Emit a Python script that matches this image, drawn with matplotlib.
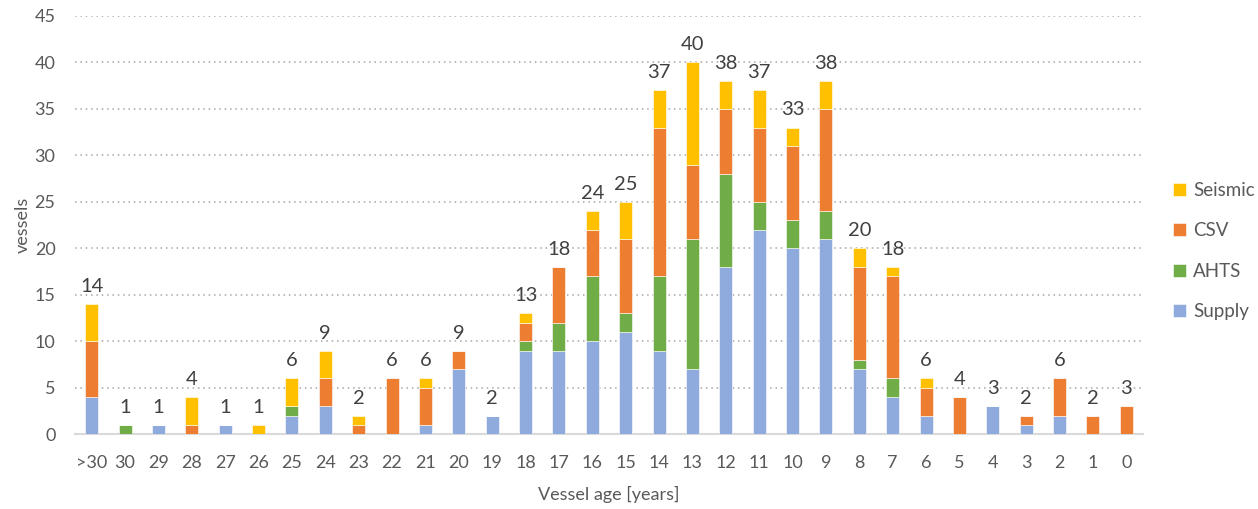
import matplotlib.pyplot as plt
import numpy as np

plt.rcParams['font.family'] = ['Lato', 'DejaVu Sans']

ages = ['>30', '30', '29', '28', '27', '26', '25', '24', '23', '22', '21', '20',
        '19', '18', '17', '16', '15', '14', '13', '12', '11', '10', '9', '8',
        '7', '6', '5', '4', '3', '2', '1', '0']
supply = [4, 0, 1, 0, 1, 0, 2, 3, 0, 0, 1, 7, 2, 9, 9, 10, 11, 9, 7, 18, 22, 20,
          21, 7, 4, 2, 0, 3, 1, 2, 0, 0]
ahts = [0, 1, 0, 0, 0, 0, 1, 0, 0, 0, 0, 0, 0, 1, 3, 7, 2, 8, 14, 10, 3, 3,
        3, 1, 2, 0, 0, 0, 0, 0, 0, 0]
csv = [6, 0, 0, 1, 0, 0, 0, 3, 1, 6, 4, 2, 0, 2, 6, 5, 8, 16, 8, 7, 8, 8,
       11, 10, 11, 3, 4, 0, 1, 4, 2, 3]
seismic = [4, 0, 0, 3, 0, 1, 3, 3, 1, 0, 1, 0, 0, 1, 0, 2, 4, 4, 11, 3, 4, 2,
           3, 2, 1, 1, 0, 0, 0, 0, 0, 0]

series = [('Supply', supply, '#8FAADC'),
          ('AHTS', ahts, '#70AD47'),
          ('CSV', csv, '#ED7D31'),
          ('Seismic', seismic, '#FFC000')]

fig = plt.figure(figsize=(12.58, 5.09), dpi=100)
ax = fig.add_axes([0.0596, 0.147, 0.849, 0.8216])

x = np.arange(len(ages))
bottom = np.zeros(len(ages))
handles = []
for name, vals, color in series:
    vals = np.array(vals)
    h = ax.bar(x, vals, 0.39, bottom=bottom, color=color, label=name,
               edgecolor='white', linewidth=0.4, zorder=3)
    handles.append(h)
    bottom += vals

# totals above each stack
for xi, tot in zip(x, bottom):
    ax.annotate(f'{int(tot)}', (xi, tot), xytext=(0, 6.5), textcoords='offset points',
                ha='center', va='bottom', fontsize=14.5, color='#404040')

ax.set_xlim(-0.5, len(ages) - 0.5)
ax.set_ylim(0, 45)
ax.set_yticks(range(0, 46, 5))
ax.set_xticks(x)
ax.set_xticklabels(ages)
ax.tick_params(axis='both', length=0, labelsize=13, colors='#595959')
ax.tick_params(axis='x', pad=15)
ax.tick_params(axis='y', pad=14)

ax.yaxis.grid(True, linestyle=(0, (1, 2.5)), color='#A6A6A6', linewidth=1.1, zorder=0)
for side in ['top', 'right', 'left']:
    ax.spines[side].set_visible(False)
ax.spines['bottom'].set_color('#D9D9D9')
ax.spines['bottom'].set_linewidth(1.5)

ax.set_xlabel('Vessel age [years]', fontsize=13, color='#595959', labelpad=11)
ax.set_ylabel('vessels', fontsize=13, color='#595959', labelpad=3)

leg = ax.legend(handles[::-1], [s[0] for s in series][::-1], loc='center left',
                bbox_to_anchor=(1.012, 0.438), frameon=False, fontsize=13.5,
                labelspacing=1.25, handlelength=0.7, handleheight=0.7,
                handletextpad=0.4)
for t in leg.get_texts():
    t.set_color('#595959')

fig.savefig('out.png', dpi=100)
